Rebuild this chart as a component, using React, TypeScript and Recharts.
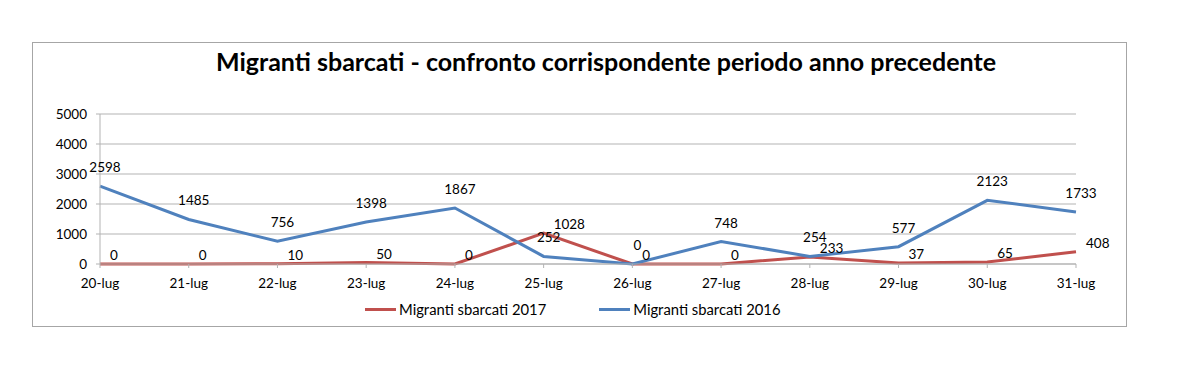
import { CartesianGrid, LabelList, Legend, Line, LineChart, XAxis, YAxis } from 'recharts';

const days = ['20-lug', '21-lug', '22-lug', '23-lug', '24-lug', '25-lug', '26-lug', '27-lug', '28-lug', '29-lug', '30-lug', '31-lug'];
const sbarcati2017 = [0, 0, 10, 50, 0, 1028, 0, 0, 233, 37, 65, 408];
const sbarcati2016 = [2598, 1485, 756, 1398, 1867, 252, 0, 748, 254, 577, 2123, 1733];
const yTicks = [0, 1000, 2000, 3000, 4000, 5000];
const seriesNames = ['Migranti sbarcati 2017', 'Migranti sbarcati 2016'];

const RED = '#c0504d';
const BLUE = '#4f81bd';
const GRID = '#b3b3b3';
const FONT = 'Lato, "Liberation Sans", sans-serif';

const data = days.map((day, i) => ({
  day,
  y2017: sbarcati2017[i],
  y2016: sbarcati2016[i],
}));

function RedLabel(props: any) {
  const { x, y, value } = props;
  return (
    <text x={x + 10} y={y - 4} fontSize={13.5} fontFamily={FONT} fill="#000" textAnchor="start">
      {value}
    </text>
  );
}

function BlueLabel(props: any) {
  const { x, y, value } = props;
  return (
    <text x={x + 5} y={y - 14} fontSize={13.5} fontFamily={FONT} fill="#000" textAnchor="middle">
      {value}
    </text>
  );
}

function LegendContent(props: any) {
  const items = [...(props.payload || [])].sort(
    (a: any, b: any) => seriesNames.indexOf(a.value) - seriesNames.indexOf(b.value)
  );
  return (
    <div style={{ display: 'flex', alignItems: 'center', height: 18, fontFamily: FONT, fontSize: 14.8, color: '#000' }}>
      {items.map((item: any, i: number) => (
        <div key={item.value} style={{ display: 'flex', alignItems: 'center', marginRight: i === 0 ? 53 : 0 }}>
          <span style={{ display: 'inline-block', width: 31, height: 3, background: item.color, marginRight: 3 }} />
          <span>{item.value}</span>
        </div>
      ))}
    </div>
  );
}

export default function App() {
  return (
    <div
      style={{
        position: 'absolute',
        left: 32,
        top: 42,
        width: 1093,
        height: 283,
        border: '1px solid #a6a6a6',
        background: '#fff',
      }}
    >
      <div
        style={{
          position: 'absolute',
          left: 573,
          top: 6,
          transform: 'translateX(-50%)',
          whiteSpace: 'nowrap',
          fontFamily: FONT,
          fontWeight: 700,
          fontSize: 25,
          lineHeight: '25px',
          color: '#000',
        }}
      >
        Migranti sbarcati - confronto corrispondente periodo anno precedente
      </div>
      <LineChart width={1093} height={283} data={data} margin={{ top: 71, right: 50, bottom: 32, left: 0 }}>
        <CartesianGrid vertical={false} stroke={GRID} />
        <XAxis
          dataKey="day"
          interval={0}
          height={30}
          tickSize={4}
          tickMargin={10}
          stroke={GRID}
          tick={{ fill: '#000', fontSize: 13.5, fontFamily: FONT }}
          padding={{ left: 0, right: 0 }}
        />
        <YAxis
          width={67}
          domain={[0, 5000]}
          ticks={yTicks}
          interval={0}
          tickSize={4}
          tickMargin={9}
          stroke={GRID}
          tick={{ fill: '#000', fontSize: 13.5, fontFamily: FONT }}
        />
        <Legend
          layout="horizontal"
          verticalAlign="middle"
          align="center"
          content={<LegendContent />}
          wrapperStyle={{ top: 257, left: 332, width: 520 }}
        />
        <Line
          type="linear"
          dataKey="y2017"
          name={seriesNames[0]}
          stroke={RED}
          strokeWidth={3}
          dot={false}
          activeDot={false}
          isAnimationActive={false}
        >
          <LabelList dataKey="y2017" content={<RedLabel />} />
        </Line>
        <Line
          type="linear"
          dataKey="y2016"
          name={seriesNames[1]}
          stroke={BLUE}
          strokeWidth={3}
          dot={false}
          activeDot={false}
          isAnimationActive={false}
        >
          <LabelList dataKey="y2016" content={<BlueLabel />} />
        </Line>
      </LineChart>
    </div>
  );
}
